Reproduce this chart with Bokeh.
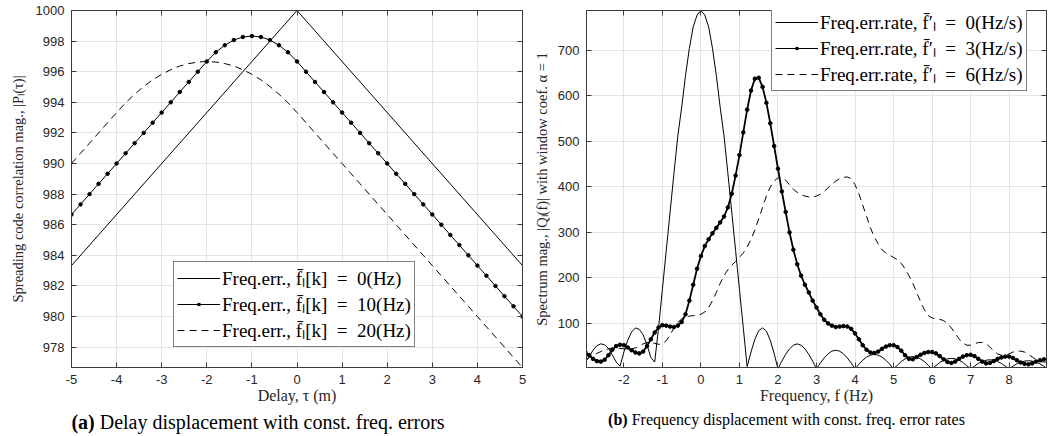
import numpy as np
from bokeh.plotting import figure
from bokeh.models import Range1d, LinearAxis, FixedTicker, Legend, LegendItem, Div
from bokeh.layouts import column, row
from bokeh.embed import file_html
from bokeh.resources import INLINE

# ---------------- Panel (a) data ----------------
tau_f0 = [-5.0, 0.0, 5.0]
corr_f0 = [983.33, 1000.0, 983.33]

tau_grid = list(np.round(np.linspace(-5.0, 5.0, 51), 1))
corr_f10 = [986.67, 987.33, 988.00, 988.67, 989.33, 990.00, 990.67, 991.33, 992.00, 992.67,
            993.33, 994.00, 994.67, 995.33, 996.00, 996.67, 997.27, 997.73, 998.07, 998.27,
            998.33, 998.27, 998.07, 997.73, 997.27, 996.67, 996.00, 995.33, 994.67, 994.00,
            993.33, 992.67, 992.00, 991.33, 990.67, 990.00, 989.33, 988.67, 988.00, 987.33,
            986.67, 986.00, 985.33, 984.67, 984.00, 983.33, 982.67, 982.00, 981.33, 980.67,
            980.00]
corr_f20 = [990.00, 990.67, 991.33, 992.00, 992.67, 993.33, 993.97, 994.53, 995.03, 995.47,
            995.83, 996.13, 996.37, 996.53, 996.63, 996.67, 996.63, 996.53, 996.37, 996.13,
            995.83, 995.47, 995.03, 994.53, 993.97, 993.33, 992.67, 992.00, 991.33, 990.67,
            990.00, 989.33, 988.67, 988.00, 987.33, 986.67, 986.00, 985.33, 984.67, 984.00,
            983.33, 982.67, 982.00, 981.33, 980.67, 980.00, 979.33, 978.67, 978.00, 977.33,
            976.67]
a_xticks = [-5, -4, -3, -2, -1, 0, 1, 2, 3, 4, 5]
a_yticks = [978, 980, 982, 984, 986, 988, 990, 992, 994, 996, 998, 1000]
EQ = "\u2002=\u2002"
a_labels = ["Freq.err., f\u0304\u2097[k]" + EQ + "0(Hz)",
            "Freq.err., f\u0304\u2097[k]" + EQ + "10(Hz)",
            "Freq.err., f\u0304\u2097[k]" + EQ + "20(Hz)"]

# ---------------- Panel (b) data ----------------
freq = list(np.round(np.linspace(-3.0, 9.0, 121), 1))
spec_r0 = [15, 27, 41, 51, 55, 53, 45, 31, 15, 6,
           37, 63, 81, 90, 87, 75, 53, 25, 15, 90,
           175, 260, 345, 430, 512, 575, 645, 705, 752, 778,
           788, 778, 752, 705, 645, 575, 512, 430, 345, 260,
           175, 90, 5, 37, 65, 84, 90, 83, 63, 34,
           0, 17, 32, 44, 52, 55, 52, 44, 32, 17,
           0, 13, 24, 33, 39, 41, 39, 33, 24, 13,
           0, 10, 19, 26, 30, 32, 30, 26, 19, 10,
           0, 8, 16, 22, 26, 27, 26, 22, 16, 8,
           0, 7, 14, 19, 22, 23, 22, 19, 14, 7,
           0, 6, 12, 16, 19, 20, 19, 16, 12, 6,
           0, 6, 11, 15, 17, 18, 17, 15, 11, 6,
           0]
spec_r3 = [37, 30, 22, 17, 16, 20, 30, 42, 50, 53,
           52, 47, 41, 36, 34, 38, 50, 65, 80, 91,
           96, 95, 93, 92, 95, 103, 120, 150, 185, 220,
           248, 270, 285, 298, 310, 322, 335, 355, 385, 425,
           470, 520, 570, 612, 638, 640, 620, 585, 540, 490,
           440, 390, 345, 300, 262, 230, 205, 185, 168, 150,
           135, 120, 108, 100, 95, 92, 93, 94, 93, 88,
           78, 65, 52, 42, 36, 35, 38, 44, 49, 52,
           52, 48, 40, 30, 22, 21, 26, 31, 35, 37,
           37, 34, 28, 21, 15, 13, 16, 22, 27, 30,
           31, 28, 22, 16, 12, 13, 17, 22, 25, 27,
           27, 24, 19, 14, 11, 10, 12, 16, 19, 21,
           22]
spec_r6 = [20, 25, 30, 34, 38, 42, 44, 46, 46, 45,
           44, 43, 44, 46, 50, 55, 58, 58, 56, 54,
           55, 62, 75, 90, 102, 110, 114, 116, 117, 118,
           120, 125, 135, 150, 168, 188, 205, 218, 228, 236,
           245, 255, 268, 285, 305, 330, 355, 380, 400, 413,
           420, 421, 415, 405, 395, 388, 383, 380, 378, 378,
           380, 384, 390, 398, 406, 413, 418, 421, 422, 418,
           405, 385, 360, 335, 310, 290, 275, 262, 255, 250,
           245, 240, 232, 220, 205, 188, 168, 148, 130, 117,
           112, 110, 109, 106, 100, 90, 78, 66, 57, 52,
           52, 55, 58, 58, 55, 48, 40, 33, 30, 30,
           33, 37, 39, 39, 37, 32, 26, 20, 16, 15,
           16]
b_xticks = [-2, -1, 0, 1, 2, 3, 4, 5, 6, 7, 8]
b_yticks = [100, 200, 300, 400, 500, 600, 700]
b_labels = ["Freq.err.rate, f\u0304\u2032\u2097" + EQ + "0(Hz/s)",
            "Freq.err.rate, f\u0304\u2032\u2097" + EQ + "3(Hz/s)",
            "Freq.err.rate, f\u0304\u2032\u2097" + EQ + "6(Hz/s)"]

AX = "#3a3a3a"
GRID = "#e4e4e4"
TICKFONT = "Liberation Sans"
SERIF = "Liberation Serif"


def style(p, xt, yt, xlabel, ylabel, ylab_standoff):
    p.xaxis.ticker = FixedTicker(ticks=xt)
    p.yaxis.ticker = FixedTicker(ticks=yt)
    for ax, tk in ((p.xaxis[0], xt), (p.yaxis[0], yt)):
        ax.axis_line_color = AX
        ax.major_tick_line_color = AX
        ax.major_tick_in = 5
        ax.major_tick_out = 0
        ax.minor_tick_line_color = None
        ax.major_label_text_font = TICKFONT
        ax.major_label_text_font_size = "13px"
        ax.major_label_text_color = "#262626"
        ax.major_label_overrides = {t: str(t) for t in tk}
        ax.axis_label_text_font = SERIF
        ax.axis_label_text_font_style = "normal"
        ax.axis_label_text_color = "#262626"
    p.xaxis.axis_label = xlabel
    p.yaxis.axis_label = ylabel
    p.xaxis.axis_label_text_font_size = "16px"
    p.yaxis.axis_label_text_font_size = "14.5px"
    p.xaxis.major_label_standoff = 7
    p.xaxis.axis_label_standoff = 0
    p.yaxis.major_label_standoff = 7
    p.yaxis.axis_label_standoff = ylab_standoff
    for loc, tk in (("above", xt), ("right", yt)):
        ax = LinearAxis(ticker=FixedTicker(ticks=tk))
        ax.axis_line_color = AX
        ax.major_tick_line_color = AX
        ax.major_tick_in = 5
        ax.major_tick_out = 0
        ax.minor_tick_line_color = None
        ax.major_label_text_color = None
        ax.major_label_text_font_size = "1px"
        ax.major_label_standoff = 0
        p.add_layout(ax, loc)
    p.xgrid.grid_line_color = GRID
    p.ygrid.grid_line_color = GRID
    p.xgrid.ticker = FixedTicker(ticks=xt)
    p.ygrid.ticker = FixedTicker(ticks=yt)
    p.outline_line_color = AX
    p.background_fill_color = "white"
    p.border_fill_color = "white"


def make_legend(items, loc, fsize):
    lg = Legend(items=items, location=loc)
    lg.label_text_font = SERIF
    lg.label_text_font_size = fsize
    lg.label_text_line_height = 1.0
    lg.label_text_color = "black"
    lg.glyph_width = 43
    lg.glyph_height = 12
    lg.label_height = 12
    lg.label_standoff = 2
    lg.spacing = 0
    lg.padding = 3
    lg.margin = 0
    lg.border_line_color = "black"
    lg.border_line_width = 1
    lg.background_fill_alpha = 1.0
    return lg


def legend_only(p, **kw):
    # renderer with one undefined point: draws nothing in the plot,
    # it only provides a legend glyph
    return p.line(x=[np.nan], y=[np.nan], line_color="black", **kw)


# ---------------- Figure (a) ----------------
p1 = figure(width=530, height=408, output_backend="svg", toolbar_location=None,
            x_range=Range1d(-5, 5), y_range=Range1d(976.67, 1000),
            min_border_left=71, min_border_right=8, min_border_top=10, min_border_bottom=41)
style(p1, a_xticks, a_yticks, "Delay, \u03c4 (m)",
      "Spreading code correlation mag., |P\u2097(\u03c4)|", 7)
r1 = p1.line(tau_f0, corr_f0, line_color="black", line_width=1)
r2 = p1.line(tau_grid, corr_f10, line_color="black", line_width=1)
p1.scatter(tau_grid, corr_f10, size=3.5, color="black")
r2d = legend_only(p1, line_width=3.2, line_dash="3 100", line_dash_offset=83, line_cap="butt")
r3 = p1.line(tau_grid, corr_f20, line_color="black", line_width=1, line_dash="7 5")
p1.add_layout(make_legend([LegendItem(label=a_labels[0], renderers=[r1]),
                           LegendItem(label=a_labels[1], renderers=[r2, r2d]),
                           LegendItem(label=a_labels[2], renderers=[r3])],
                          (102, 20), "19px"))

# ---------------- Figure (b) ----------------
p2 = figure(width=521, height=408, output_backend="svg", toolbar_location=None,
            x_range=Range1d(-2.97, 8.97), y_range=Range1d(3, 788),
            min_border_left=55, min_border_right=5, min_border_top=3, min_border_bottom=41)
style(p2, b_xticks, b_yticks, "Frequency, f (Hz)",
      "Spectrum mag., |Q\u2097(f)| with window coef. \u03b1 = 1", 5)
q1 = p2.line(freq, spec_r0, line_color="black", line_width=1)
p2.line(freq, spec_r3, line_color="black", line_width=1.8)
p2.scatter(freq, spec_r3, size=3.6, color="black")
q2l = legend_only(p2, line_width=1)
q2d = legend_only(p2, line_width=3.2, line_dash="3 100", line_dash_offset=83, line_cap="butt")
q3 = p2.line(freq, spec_r6, line_color="black", line_width=1, line_dash="7 5")
p2.add_layout(make_legend([LegendItem(label=b_labels[0], renderers=[q1]),
                           LegendItem(label=b_labels[1], renderers=[q2l, q2d]),
                           LegendItem(label=b_labels[2], renderers=[q3])],
                          (185, 276), "19px"))

cap = "font-family:'Liberation Serif';color:black;text-align:center;white-space:nowrap;"
d1 = Div(text=f"<div style=\"{cap}font-size:20px;padding-top:0px;width:516px;\"><b>(a)</b> Delay displacement with const. freq. errors</div>",
         width=530, height=27, margin=(0, 0, 0, 0))
d2 = Div(text=f"<div style=\"{cap}font-size:16px;padding-top:1px;width:513px;\"><b>(b)</b> Frequency displacement with const. freq. error rates</div>",
         width=521, height=27, margin=(0, 0, 0, 0))

layout = column(row(p1, p2, spacing=0), row(d1, d2, spacing=0), spacing=0)
open("out.html", "w").write(file_html(layout, INLINE))
